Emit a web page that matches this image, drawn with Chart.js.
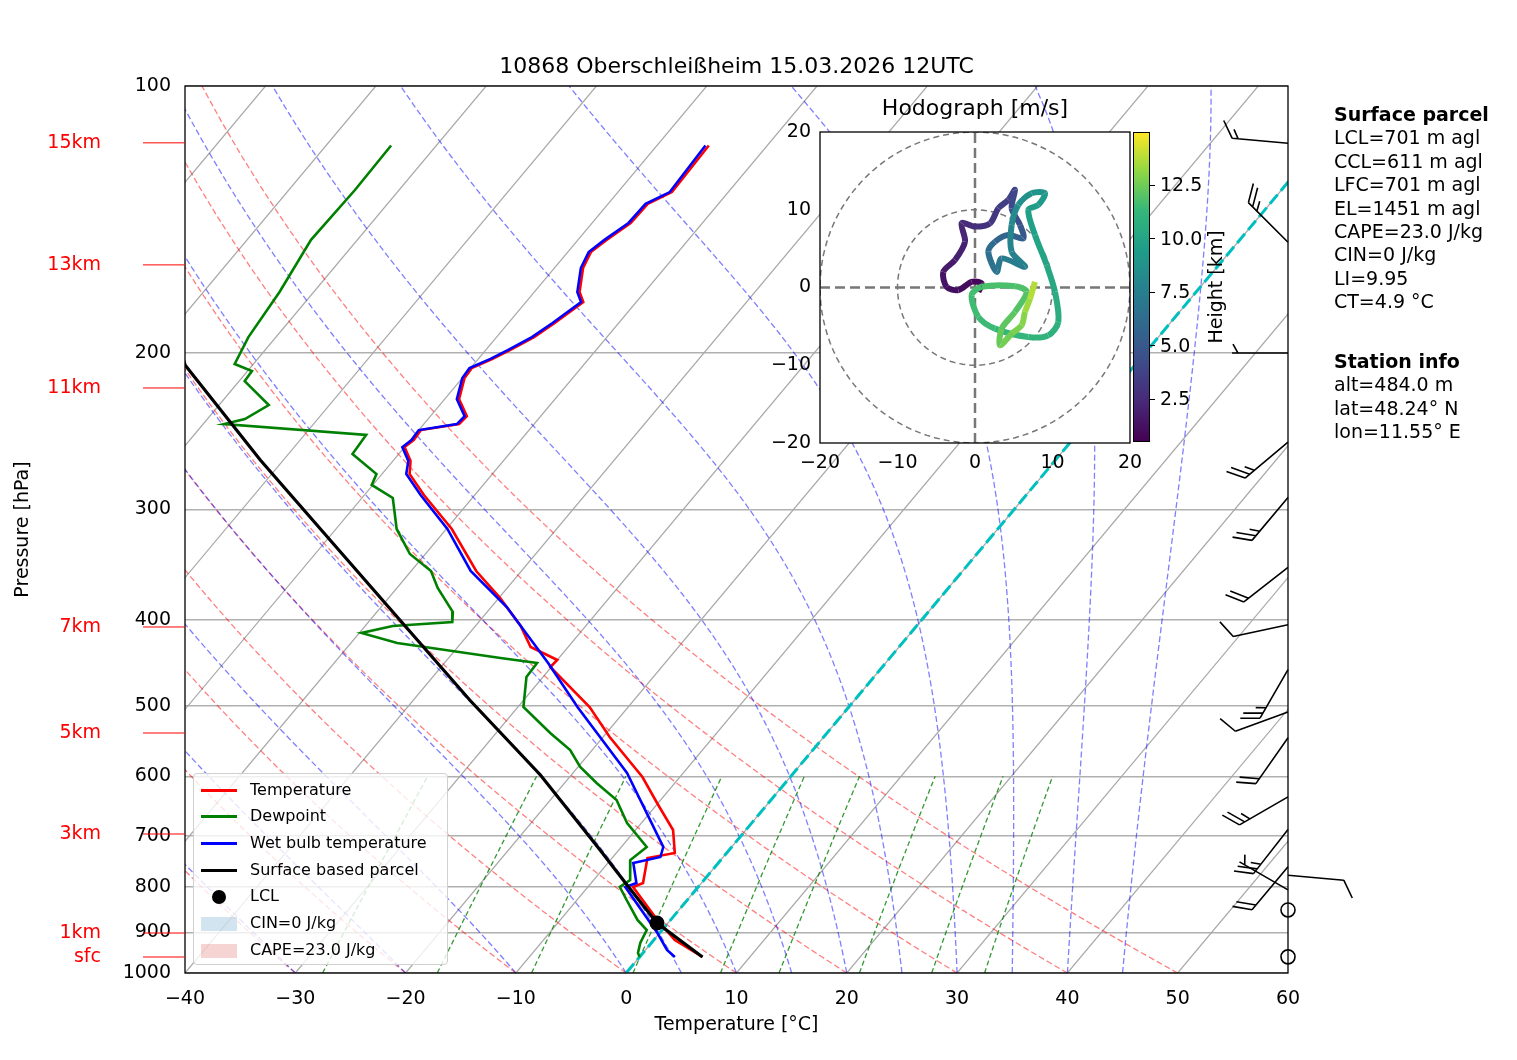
<!DOCTYPE html>
<html>
<head>
<meta charset="utf-8">
<script src="https://cdn.jsdelivr.net/npm/chart.js@4.4.1/dist/chart.umd.min.js"></script>
<style>
  body { margin:0; background:#fff; font-family:"DejaVu Sans", sans-serif; }
  #wrap { position:relative; width:1517px; height:1060px; }
  #main { position:absolute; left:0; top:0; }
  #hodo { position:absolute; left:760px; top:90px; }
  .abs { position:absolute; white-space:nowrap; }
  #title { left:185px; width:1103px; top:53px; text-align:center; font-size:22px; }
  .info { left:1334px; font-size:19px; line-height:23.4px; }
  #legend { left:193px; top:773px; width:253px; height:190px; background:rgba(255,255,255,0.8);
            border:1px solid #d0d0d0; border-radius:4px; font-size:16px; }
  .li { position:absolute; left:7px; height:20px; line-height:20px; }
  .sw { display:inline-block; width:36px; vertical-align:middle; margin-right:13px; }
</style>
</head>
<body>
<div id="wrap">
  <canvas id="main" width="1517" height="1060"></canvas>
  <canvas id="hodo" width="420" height="400"></canvas>
  <div class="abs" id="title">10868 Oberschleißheim 15.03.2026 12UTC</div>
  <div class="abs" style="left:820px;width:310px;top:95px;text-align:center;font-size:22px;">Hodograph [m/s]</div>
  <div class="abs" id="cbar" style="left:1133px;top:132px;width:15px;height:308px;border:1px solid #000;"></div>
  <div class="abs" style="left:1190px;top:287px;font-size:19px;transform:translate(0,-50%) rotate(-90deg);transform-origin:center;width:130px;margin-left:-40px;text-align:center;">Height [km]</div>
  <div id="cbticks"></div>
  <div class="abs info" style="top:103px">
    <b>Surface parcel</b><br>LCL=701 m agl<br>CCL=611 m agl<br>LFC=701 m agl<br>EL=1451 m agl<br>CAPE=23.0 J/kg<br>CIN=0 J/kg<br>LI=9.95<br>CT=4.9 °C
  </div>
  <div class="abs info" style="top:350px">
    <b>Station info</b><br>alt=484.0 m<br>lat=48.24° N<br>lon=11.55° E
  </div>
  <div class="abs" id="legend">
    <div class="li" style="top:6px"><span class="sw" style="border-top:3px solid red"></span>Temperature</div>
    <div class="li" style="top:32px"><span class="sw" style="border-top:3px solid green"></span>Dewpoint</div>
    <div class="li" style="top:59px"><span class="sw" style="border-top:3px solid blue"></span>Wet bulb temperature</div>
    <div class="li" style="top:86px"><span class="sw" style="border-top:3px solid black"></span>Surface based parcel</div>
    <div class="li" style="top:112px"><span class="sw" style="text-align:center"><span style="display:inline-block;width:14px;height:14px;border-radius:7px;background:#000;vertical-align:middle"></span></span>LCL</div>
    <div class="li" style="top:139px"><span class="sw" style="height:14px;background:rgba(31,119,180,0.2)"></span>CIN=0 J/kg</div>
    <div class="li" style="top:166px"><span class="sw" style="height:14px;background:rgba(214,39,40,0.2)"></span>CAPE=23.0 J/kg</div>
  </div>
</div>
<script>
// ================= DADOS DA SONDAGEM =================
const tempP = [116.7,131.7,135.8,142.7,149.1,153.9,160.4,170.7,175.2,185.0,191.9,198.5,203.1,208.0,213.4,225.4,235.6,240.5,244.3,250.7,255.3,264.7,273.8,289.2,315.8,352.2,377.7,406.2,429.0,443.7,451.9,501.3,542.0,601.2,643.2,689.9,732.3,741.9,791.7,800.0,871.4,917.9,959.3];
const tempT = [-55.3,-55.1,-56.4,-56.5,-57.4,-57.9,-57.4,-55.9,-54.8,-55.8,-56.6,-57.8,-58.7,-59.9,-59.8,-58.7,-56.7,-56.8,-59.8,-59.7,-60.0,-58.4,-57.5,-54.6,-49.5,-44.1,-39.9,-35.9,-33.4,-30.0,-30.1,-23.5,-19.4,-13.4,-10.1,-6.6,-4.7,-6.8,-5.3,-5.9,-1.2,1.9,5.7];

const wetP = [116.7,131.7,135.8,142.7,149.1,153.9,160.4,170.7,175.2,185.0,191.9,198.5,203.1,208.0,213.4,225.4,235.6,240.5,244.3,250.7,255.3,264.7,273.8,289.2,315.8,352.2,386.7,447.2,501.3,595.0,721.0,740.0,751.6,791.7,800.0,901.4,942.0,959.3];
const wetT = [-55.6,-55.3,-56.6,-56.7,-57.6,-58.1,-57.6,-56.1,-55.0,-56.0,-56.8,-58.0,-58.9,-60.1,-60.0,-58.9,-56.9,-57.0,-60.0,-59.9,-60.2,-58.6,-57.8,-54.9,-49.9,-44.6,-38.6,-30.6,-24.6,-15.1,-6.2,-5.7,-7.7,-5.9,-6.6,-0.2,1.95,3.2];

const dewP = [116.7,131.0,149.1,170.7,191.9,205.8,209.6,215.1,228.9,237.4,240.5,247.4,259.9,273.8,281.7,291.4,315.8,337.0,352.2,368.1,391.8,402.0,406.2,413.7,424.6,441.4,447.2,463.8,501.3,536.3,560.5,585.8,610.7,638.2,677.5,721.0,745.8,785.5,800.0,827.4,871.4,894.4,925.1,949.4,959.3];
const dewT = [-84.1,-84.0,-84.2,-83.1,-82.5,-81.7,-79.6,-79.5,-75.5,-76.6,-78.1,-64.4,-64.2,-60.5,-60.1,-57.2,-54.5,-51.4,-48.2,-46.3,-43.1,-42.4,-47.5,-49.8,-45.8,-35.3,-31.6,-31.5,-29.5,-25.1,-22.0,-19.8,-17.1,-14.0,-11.3,-7.7,-8.2,-6.7,-7.1,-5.5,-3.0,-1.4,-1.0,-0.45,0.0];

const parcelP = [959.3,878.3,795.8,726.7,598.1,492.3,400.0,325.0,264.0,206.4,190.0];
const parcelT = [5.7,-1.0,-6.6,-11.7,-22.8,-34.9,-47.3,-59.7,-72.1,-86.1,-89.5];
const lclP = 878.3, lclT = -1.0;

// vento: pressão, direção (°), velocidade (kt)
const windP   = [116,150,200,252,291,349,405,455,508,543,633,689,759,776,806,849,959];
const windDir = [275,315,270,230,220,232,258,210,250,215,240,218,220,95,300,0,0];
const windSpd = [15,25,5,25,25,20,10,25,10,20,25,25,20,10,5,0,0];

// alturas no eixo esquerdo
const hLabels = ["15km","13km","11km","7km","5km","3km","1km","sfc"];
const hPress  = [115.9,159.1,219.0,407.3,536.3,697.1,901.4,959.3];

// hodógrafo u, v (m/s) e altura (km)
const hodoU = [0.43,0.86,-0.43,-2.15,-3.66,-4.09,-2.58,-1.29,-1.72,0,1.94,3.01,4.30,5.16,4.73,5.81,6.24,4.30,2.58,1.72,2.80,3.44,6.45,4.73,4.73,5.59,7.31,9.03,8.17,6.88,7.74,9.25,10.32,10.75,9.46,6.88,2.58,0.43,-0.43,0.86,5.16,6.67,5.16,3.44,3.23,4.73,6.02,6.45,7.10,7.74];
const hodoV = [-0.56,0.52,0.73,-0.34,0.09,2.02,3.53,5.89,8.26,7.83,8.26,10.19,11.27,12.56,10.19,8.04,6.32,6.75,5.89,4.60,2.02,3.74,2.67,4.60,8.04,10.62,12.13,12.13,10.62,9.98,6.75,2.88,-0.56,-4.43,-6.15,-6.37,-5.29,-3.78,-0.99,0.09,0.17,-0.56,-3.14,-5.29,-7.44,-5.94,-4.86,-3.14,-1.42,0.73];
const hodoH = [0.5,0.8,1.0,1.2,1.4,1.7,2.0,2.3,2.6,2.9,3.2,3.5,3.8,4.1,4.5,5.0,5.5,5.8,6.2,6.6,7.0,7.3,7.6,7.9,8.3,8.7,9.0,9.3,9.5,9.7,10.0,10.3,10.6,10.9,11.1,11.3,11.5,11.6,11.7,11.8,11.9,12.0,12.2,12.4,12.6,12.8,13.0,13.4,13.8,14.5];
const H_MIN = 0.54, H_MAX = 14.98;
const cbTicks = [2.5,5.0,7.5,10.0,12.5];

const xTicks = [-40,-30,-20,-10,0,10,20,30,40,50,60];
const pTicks = [100,200,300,400,500,600,700,800,900,1000];

// ================= SKEW-T =================
const SKEW = 67.3;
const sx = (t, p) => t + SKEW * Math.log10(1000 / p);
const prof = (P, T) => P.map((p, i) => ({ x: sx(T[i], p), y: p }));

function line(data, color, width, dash, order) {
  return { data, borderColor: color, borderWidth: width, borderDash: dash || [],
           showLine: true, pointRadius: 0, order: order, tension: 0 };
}

const bg = [];
// isotermas
for (let t = -130; t <= 60; t += 10)
  bg.push(line([{x: sx(t,1000), y:1000}, {x: sx(t,100), y:100}], "#a8a8a8", 1.2, [], 20));
// adiabáticas secas
const pLevels = [];
for (let p = 1000; p >= 100; p -= 10) pLevels.push(p);
for (let t = -120; t <= 50; t += 10) {
  const th = t + 273.15;
  bg.push(line(pLevels.map(p => ({ x: sx(th * Math.pow(p/1000, 0.2857) - 273.15, p), y: p })),
          "rgba(255,0,0,0.5)", 1.3, [6, 3], 19));
}
// adiabáticas úmidas
function dTdp(p, T) {
  const es = 6.112 * Math.exp(17.67 * (T - 273.15) / (T - 29.65));
  const rs = 0.622 * es / (p - es);
  const num = 287.04 * T + 2.501e6 * rs;
  const den = 1004.6 + 2.501e6 * 2.501e6 * rs * 0.622 / (287.04 * T * T);
  return num / den / p;
}
for (const t0 of [-40,-30,-20,-10,0,5,10,15,20,25,30,35,40,45]) {
  let T = t0 + 273.15, p = 1000; const pts = [];
  while (p >= 100) {
    pts.push({ x: sx(T - 273.15, p), y: p });
    const dp = -5;
    const k1 = dTdp(p, T), k2 = dTdp(p + dp/2, T + k1*dp/2);
    T += k2 * dp; p += dp;
  }
  bg.push(line(pts, "rgba(0,0,255,0.5)", 1.3, [6, 3], 18));
}
// razão de mistura
for (const w of [0.4,1,2,4,7,10,16,24,32]) {
  const pts = [];
  for (let p = 1000; p >= 600; p -= 25) {
    const e = w * p / (622 + w), l = Math.log(e / 6.112);
    pts.push({ x: sx(243.5 * l / (17.67 - l), p), y: p });
  }
  bg.push(line(pts, "rgba(0,128,0,0.8)", 1.3, [5, 3], 17));
}
// isoterma 0 °C
bg.push(line([{x: sx(0,1000), y:1000}, {x: sx(0,100), y:100}], "#00bfbf", 3, [12, 5], 5));

const fonts = { family: "DejaVu Sans", size: 19 };
const minus = v => String(v).replace("-", "\u2212");

const framePlugin = {
  id: "frame",
  afterDraw(c) {
    const { ctx, chartArea: a, scales } = c;
    ctx.save();
    ctx.strokeStyle = "#000"; ctx.lineWidth = 1.3;
    ctx.strokeRect(a.left, a.top, a.right - a.left, a.bottom - a.top);
    // alturas
    ctx.fillStyle = "red"; ctx.strokeStyle = "red"; ctx.lineWidth = 1;
    ctx.font = "19px 'DejaVu Sans'"; ctx.textAlign = "right"; ctx.textBaseline = "middle";
    hLabels.forEach((s, i) => {
      const y = scales.y.getPixelForValue(hPress[i]);
      ctx.beginPath(); ctx.moveTo(143, y); ctx.lineTo(a.left, y); ctx.stroke();
      ctx.fillText(s, 101, y);
    });
    // barbas de vento
    ctx.strokeStyle = "#000"; ctx.lineWidth = 1.6;
    const x0 = a.right;
    windP.forEach((p, i) => {
      const y0 = scales.y.getPixelForValue(p);
      let spd = windSpd[i];
      if (spd === 0) { ctx.beginPath(); ctx.arc(x0, y0, 7, 0, 2*Math.PI); ctx.stroke(); return; }
      const r = windDir[i] * Math.PI / 180;
      const dx = Math.sin(r), dy = -Math.cos(r); // aponta para a origem do vento (norte = cima)
      const L = 56;
      const tx = x0 + dx * L, ty = y0 + dy * L;
      ctx.beginPath(); ctx.moveTo(x0, y0); ctx.lineTo(tx, ty);
      const px = -dy, py = dx; // perpendicular
      let pos = 0;
      while (spd >= 10) {
        const bx = tx - dx * pos, by = ty - dy * pos;
        ctx.moveTo(bx, by); ctx.lineTo(bx + px*17 + dx*10, by + py*17 + dy*10);
        pos += 6; spd -= 10;
      }
      if (spd >= 5) {
        if (pos === 0) pos = 6;
        const bx = tx - dx * pos, by = ty - dy * pos;
        ctx.moveTo(bx, by); ctx.lineTo(bx + px*9 + dx*5, by + py*9 + dy*5);
      }
      ctx.stroke();
    });
    ctx.restore();
  }
};

new Chart(document.getElementById("main"), {
  type: "scatter",
  data: { datasets: [
    ...bg,
    line(prof(tempP, tempT), "red", 2.6, [], 3),
    line(prof(wetP, wetT), "blue", 2.6, [], 2),
    line(prof(dewP, dewT), "green", 2.6, [], 4),
    line(prof(parcelP, parcelT), "black", 3.2, [], 1),
    { data: [{ x: sx(lclT, lclP), y: lclP }], pointRadius: 7.5, backgroundColor: "#000", borderWidth: 0, order: 0 }
  ]},
  plugins: [framePlugin],
  options: {
    responsive: false, animation: false,
    layout: { padding: { top: 86, right: 229, left: 0, bottom: 0 } },
    plugins: { legend: { display: false }, tooltip: { enabled: false } },
    scales: {
      x: { type: "linear", min: -40, max: 60,
           afterBuildTicks: s => { s.ticks = xTicks.map(v => ({ value: v })); },
           afterFit: s => { s.height = 87; },
           grid: { display: false, tickLength: 7, drawTicks: true },
           border: { display: false },
           ticks: { color: "#000", font: fonts, callback: v => minus(v), maxRotation: 0, padding: 8 },
           title: { display: true, text: "Temperature [°C]", color: "#000", font: fonts, padding: { top: 0, bottom: 24 } } },
      y: { type: "logarithmic", reverse: true, min: 100, max: 1000,
           afterBuildTicks: s => { s.ticks = pTicks.map(v => ({ value: v })); },
           afterFit: s => { s.width = 185; },
           grid: { color: "#b0b0b0", lineWidth: 1.4, tickLength: 7, drawTicks: false },
           border: { display: false },
           ticks: { color: "#000", font: fonts, callback: v => String(v), padding: 14 },
           title: { display: true, text: "Pressure [hPa]", color: "#000", font: fonts, padding: { top: 12, bottom: 0 } } }
    }
  }
});

// ================= HODÓGRAFO =================
const stops = [[0,[68,1,84]],[0.125,[72,40,120]],[0.25,[62,74,137]],[0.375,[49,104,142]],[0.5,[38,130,142]],
               [0.625,[31,158,137]],[0.75,[53,183,121]],[0.875,[143,215,68]],[1,[253,231,37]]];
function viridis(f) {
  f = Math.max(0, Math.min(1, f));
  for (let i = 1; i < stops.length; i++) {
    if (f <= stops[i][0]) {
      const [f0, c0] = stops[i-1], [f1, c1] = stops[i], k = (f - f0) / (f1 - f0);
      return "rgb(" + c0.map((c, j) => Math.round(c + (c1[j] - c) * k)).join(",") + ")";
    }
  }
}
const hf = h => (h - H_MIN) / (H_MAX - H_MIN);
document.getElementById("cbar").style.background =
  "linear-gradient(to top," + stops.map(s => viridis(s[0]) + " " + (s[0]*100) + "%").join(",") + ")";
const cbt = document.getElementById("cbticks");
cbTicks.forEach(t => {
  const y = 441 - hf(t) * 309;
  cbt.innerHTML += '<div class="abs" style="left:1149px;top:' + (y-0.5) + 'px;width:6px;border-top:1px solid #000"></div>' +
    '<div class="abs" style="left:1160px;top:' + (y-12) + 'px;font-size:19px">' + t.toFixed(1) + '</div>';
});

const circ = r => { const a = []; for (let k = 0; k <= 120; k++) { const t = k / 120 * 2 * Math.PI; a.push({ x: r*Math.cos(t), y: r*Math.sin(t) }); } return a; };
const hodoPts = hodoU.map((u, i) => ({ x: u, y: hodoV[i] }));

new Chart(document.getElementById("hodo"), {
  type: "scatter",
  data: { datasets: [
    { data: hodoPts, showLine: true, pointRadius: 0, borderWidth: 6, tension: 0.3, order: 0,
      segment: { borderColor: c => viridis(hf(hodoH[c.p0DataIndex])) } },
    line(circ(10), "#777", 1.5, [6, 4], 5),
    line(circ(20), "#777", 1.5, [6, 4], 5),
    line([{x:-20,y:0},{x:20,y:0}], "#777", 2.5, [10, 5], 5),
    line([{x:0,y:-20},{x:0,y:20}], "#777", 2.5, [10, 5], 5)
  ]},
  plugins: [{
    id: "hbg",
    beforeDraw(c) { const a = c.chartArea; c.ctx.fillStyle = "#fff"; c.ctx.fillRect(a.left, a.top, a.right-a.left, a.bottom-a.top); },
    afterDraw(c) { const a = c.chartArea; c.ctx.strokeStyle = "#000"; c.ctx.lineWidth = 1.3; c.ctx.strokeRect(a.left, a.top, a.right-a.left, a.bottom-a.top); }
  }],
  options: {
    responsive: false, animation: false,
    layout: { padding: { top: 42, right: 50, left: 0, bottom: 0 } },
    plugins: { legend: { display: false }, tooltip: { enabled: false } },
    scales: {
      x: { min: -20, max: 20, afterBuildTicks: s => { s.ticks = [-20,-10,0,10,20].map(v => ({ value: v })); },
           afterFit: s => { s.height = 47; }, grid: { display: false, tickLength: 6 }, border: { display: false },
           ticks: { color: "#000", font: fonts, callback: v => minus(v), maxRotation: 0 } },
      y: { min: -20, max: 20, afterBuildTicks: s => { s.ticks = [-20,-10,0,10,20].map(v => ({ value: v })); },
           afterFit: s => { s.width = 60; }, grid: { display: false, tickLength: 6 }, border: { display: false },
           ticks: { color: "#000", font: fonts, callback: v => minus(v) } }
    }
  }
});
</script>
</body>
</html>
